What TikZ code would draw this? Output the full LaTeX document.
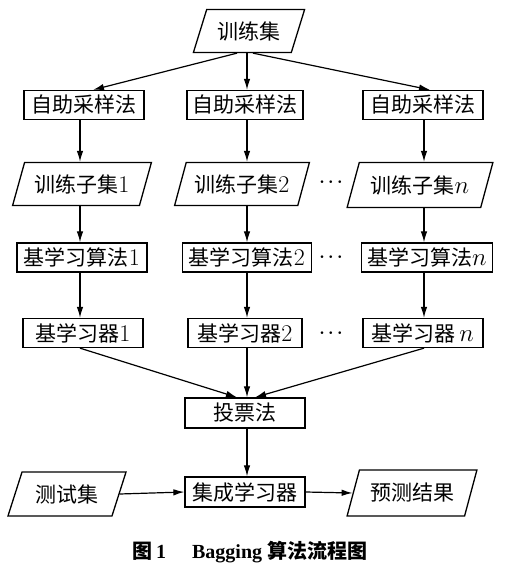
\documentclass[tikz,border=0pt]{standalone}
\usepackage{fontspec}
\newfontfamily\cjk{Noto Sans CJK SC}
\newfontfamily\capfont{Liberation Serif}
\newcommand{\zh}[1]{{\cjk #1}}
\newcommand{\num}[1]{{\fontsize{24}{24}\selectfont #1}}
\usetikzlibrary{shapes.geometric,arrows.meta,calc}
\begin{document}
\begin{tikzpicture}[x=1pt,y=-1pt,
  every node/.style={font=\fontsize{21}{24}\selectfont, inner sep=0pt},
  box/.style={draw, line width=1.3pt, rectangle, minimum height=29pt},
  para/.style={draw, line width=1.3pt, trapezium, trapezium left angle=63,
    trapezium right angle=117, trapezium stretches=true, minimum height=43pt},
  dotsnode/.style={font=\fontsize{17}{17}\selectfont\boldmath},
  arr/.style={line width=1.2pt, -{Latex[length=11pt,width=6.5pt]}},
]
\useasboundingbox (0,0) rectangle (511,570);
\coordinate (c1) at (80,0);
\coordinate (c2) at (247,0);
\coordinate (c3) at (424,0);

\node[para, minimum width=112pt] (train) at (249,31) {\zh{训练集}};

\node[box, minimum width=120pt] (bs1) at (84,105) {\zh{自助采样法}};
\node[box, minimum width=116pt] (bs2) at (245,105) {\zh{自助采样法}};
\node[box, minimum width=120pt] (bs3) at (423,105) {\zh{自助采样法}};

\node[para, minimum width=139pt] (sub1) at (82,184) {\zh{训练子集}\num{1}};
\node[para, minimum width=135pt] (sub2) at (242,184) {\zh{训练子集}\num{2}};
\node[para, minimum width=146pt, minimum height=45pt] (sub3) at (420,185) {\zh{训练子集}\num{$n$}};

\node[box, minimum width=130pt] (alg1) at (82,257.5) {\zh{基学习算法}\num{1}};
\node[box, minimum width=129pt] (alg2) at (247,257.5) {\zh{基学习算法}\num{2}};
\node[box, minimum width=131pt] (alg3) at (427,257.5) {\zh{基学习算法}\num{$n$}};

\node[box, minimum width=120pt] (lr1) at (83,333) {\zh{基学习器}\num{1}};
\node[box, minimum width=114pt] (lr2) at (245,333) {\zh{基学习器}\num{2}};
\node[box, minimum width=120pt] (lr3) at (423,333) {\zh{基学习器}\,\num{$n$}};

\node[dotsnode] (d1) at (331,182) {$\cdots$};
\node[dotsnode] (d2) at (331,257) {$\cdots$};
\node[dotsnode] (d3) at (331,333) {$\cdots$};

\node[box, minimum width=120pt, minimum height=30pt] (vote) at (245,413) {\zh{投票法}};
\node[box, minimum width=120pt, minimum height=30pt] (ens) at (245,492) {\zh{集成学习器}};
\node[para, minimum width=119pt, minimum height=44pt] (test) at (67,494) {\zh{测试集}};
\node[para, minimum width=130pt, minimum height=46pt] (pred) at (412,493) {\zh{预测结果}};

\node[font=\fontsize{20}{22}\selectfont\bfseries\capfont] (cap) at (250,552)
  {\zh{图}\,1\hspace{1.3em}Bagging \zh{算法流程图}};

% arrows from training set
\draw[arr] ($(train.south)+(-12,0)$) -- ($(bs1.north)+(9,0)$);
\draw[arr] (train.south -| c2) -- (bs2.north -| c2);
\draw[arr] ($(train.south)+(4,0)$) -- ($(bs3.north)+(7,0)$);

% columns
\draw[arr] (bs1.south -| c1) -- (sub1.north -| c1);
\draw[arr] (sub1.south -| c1) -- (alg1.north -| c1);
\draw[arr] (alg1.south -| c1) -- (lr1.north -| c1);
\draw[arr] (bs2.south -| c2) -- (sub2.north -| c2);
\draw[arr] (sub2.south -| c2) -- (alg2.north -| c2);
\draw[arr] (alg2.south -| c2) -- (lr2.north -| c2);
\draw[arr] (bs3.south -| c3) -- (sub3.north -| c3);
\draw[arr] (sub3.south -| c3) -- (alg3.north -| c3);
\draw[arr] (alg3.south -| c3) -- (lr3.north -| c3);

% to voting
\draw[arr] (lr1.south -| c1) -- ($(vote.north)+(-8,0)$);
\draw[arr] (lr2.south -| c2) -- (vote.north -| c2);
\draw[arr] (lr3.south -| c3) -- ($(vote.north)+(10,0)$);

\draw[arr] (vote.south -| c2) -- (ens.north -| c2);
\draw[arr] (test.east) -- (ens.west);
\draw[arr] (ens.east) -- (pred.west);
\end{tikzpicture}
\end{document}
